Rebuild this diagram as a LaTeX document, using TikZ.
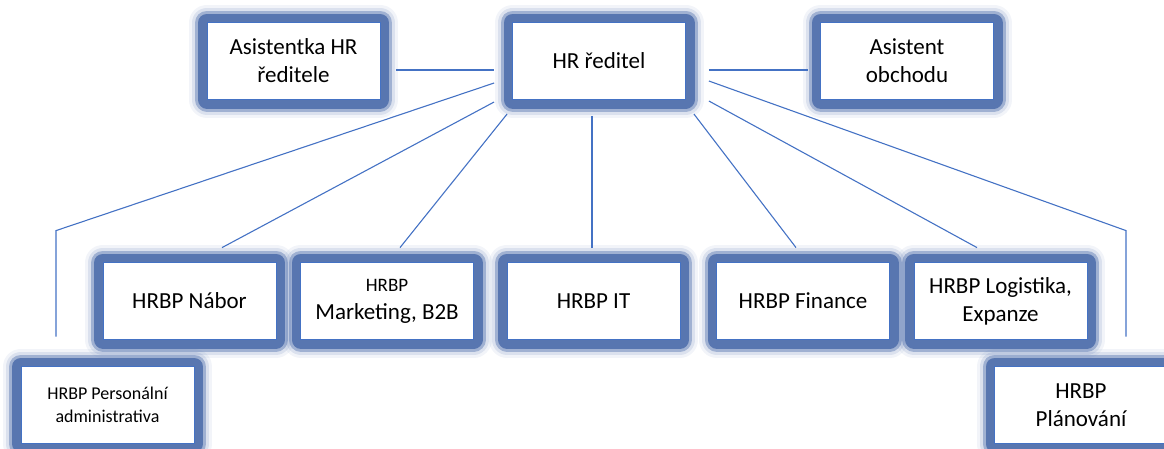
\documentclass[tikz,border=0pt]{standalone}
\usepackage{fontspec}
\setmainfont{Carlito}
\usetikzlibrary{calc}

\definecolor{ramec}{RGB}{88,118,176}
\definecolor{cara}{RGB}{68,114,196}

\tikzset{
    blok/.style={draw=cara, fill=white, line width=0.8pt,
        minimum width=173pt, minimum height=77pt, inner sep=2pt,
        align=center, font=\fontsize{23}{28}\selectfont,
        preaction={draw=ramec, draw opacity=0.08, line width=36pt, line join=round},
        preaction={draw=ramec, draw opacity=0.15, line width=30pt, line join=round},
        preaction={draw=ramec, draw opacity=0.45, line width=24pt, line join=round},
        preaction={draw=ramec, line width=18pt, line join=round}},
    spoj/.style={draw=cara, line width=1.1pt}
}

\begin{document}
\begin{tikzpicture}[x=1pt, y=-1pt]

    % Рамка рисунка
    \useasboundingbox (0, 0) rectangle (1164, 448);

    % Верхний ряд
    \node[blok] (asst) at (293.5, 61) {Asistentka HR\\ředitele};
    \node[blok] (dir)  at (599, 61)   {HR ředitel};
    \node[blok] (obch) at (907, 61)   {Asistent\\obchodu};

    % Средний ряд
    \node[blok] (nabor) at (189.5, 301) {HRBP Nábor};
    \node[blok] (mkt)   at (387, 301)   {{\fontsize{19}{26}\selectfont HRBP}\\Marketing, B2B};
    \node[blok] (it)    at (593.5, 301) {HRBP IT};
    \node[blok] (fin)   at (803, 301)   {HRBP Finance};
    \node[blok] (log)   at (1000.5, 301) {HRBP Logistika,\\Expanze};

    % Нижний ряд
    \node[blok, font=\fontsize{18}{23}\selectfont] (pers) at (107.5, 405) {HRBP Personální\\administrativa};
    \node[blok] (plan) at (1081, 405) {HRBP\\Plánování};

    % Ассистенты
    \draw[spoj] ($(asst.east)+(16, 9)$) -- ($(dir.west)+(-18, 9)$);
    \draw[spoj] ($(dir.east)+(23, 9)$) -- ($(obch.west)+(-12.5, 9)$);

    % Линии к HRBP
    \draw[spoj] ($(dir.west)+(-18, 22)$) -- ($(pers.north)+(-51.5, -135.5)$) -- ($(pers.north)+(-51.5, -29.5)$);
    \draw[spoj] ($(dir.west)+(-18, 41)$) -- ($(nabor.north)+(32.5, -14.5)$);
    \draw[spoj] ($(dir.west)+(-5, 53)$) -- ($(mkt.north)+(13, -14.5)$);
    \draw[spoj] ($(dir.south)+(-7, 16)$) -- ($(it.north)+(-1.5, -14.5)$);
    \draw[spoj] ($(dir.east)+(8, 53)$) -- ($(fin.north)+(-7, -14.5)$);
    \draw[spoj] ($(dir.east)+(23, 40)$) -- ($(log.north)+(-23.5, -14.5)$);
    \draw[spoj] ($(dir.east)+(23, 20)$) -- ($(plan.north)+(45, -135.5)$) -- ($(plan.north)+(45, -29.5)$);
\end{tikzpicture}
\end{document}
